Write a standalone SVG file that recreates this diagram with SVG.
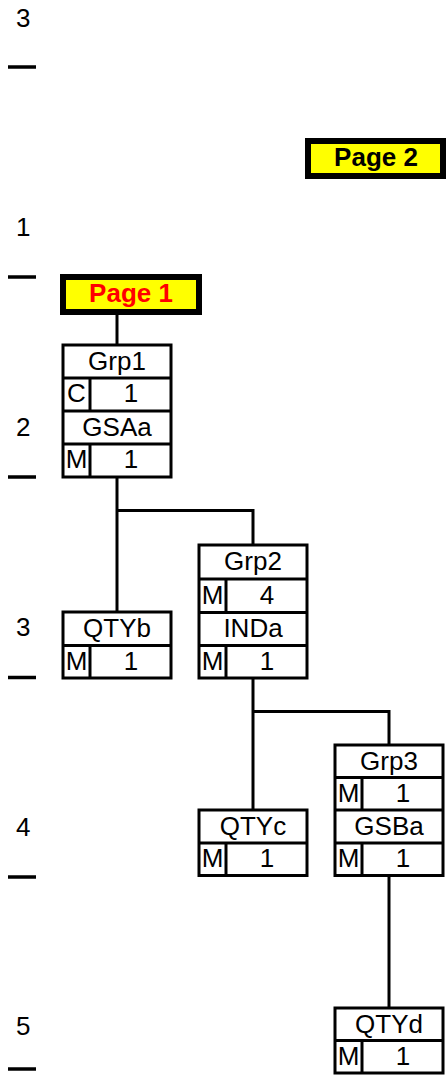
<svg xmlns="http://www.w3.org/2000/svg" width="446" height="1075" viewBox="0 0 446 1075">
<style>
text{font-family:"Liberation Sans",Arial,sans-serif;font-size:26px;fill:#000}
.c{text-anchor:middle}
.pg{font-weight:bold;text-anchor:middle}
.red{fill:#ff0000}
.box{fill:#fff;stroke:#000;stroke-width:3}
.ln{stroke:#000;stroke-width:3;fill:none}
.pbox{fill:#ffff00;stroke:#000;stroke-width:6}
.dash{stroke:#000;stroke-width:3.5}
</style>
<rect width="446" height="1075" fill="#fff"/>
<g id="levels">
<text x="16" y="27">3</text>
<line class="dash" x1="8" y1="67" x2="36" y2="67"/>
<text x="16" y="236">1</text>
<line class="dash" x1="8" y1="277" x2="36" y2="277"/>
<text x="16" y="436">2</text>
<line class="dash" x1="8" y1="477" x2="36" y2="477"/>
<text x="16" y="636">3</text>
<line class="dash" x1="8" y1="677.5" x2="36" y2="677.5"/>
<text x="16" y="836">4</text>
<line class="dash" x1="8" y1="877" x2="36" y2="877"/>
<text x="16" y="1035">5</text>
<line class="dash" x1="8" y1="1069" x2="36" y2="1069"/>
</g>
<g id="connectors">
<line class="ln" x1="117" y1="315" x2="117" y2="345"/>
<polyline class="ln" points="117,477 117,612"/>
<polyline class="ln" points="117,510.5 253,510.5 253,545"/>
<polyline class="ln" points="253,678 253,810"/>
<polyline class="ln" points="253,711.5 389,711.5 389,745"/>
<polyline class="ln" points="389,875.5 389,1008"/>
</g>
<g id="page2">
<rect class="pbox" x="308" y="141" width="135" height="35"/>
<text class="pg" x="376" y="166">Page 2</text>
</g>
<g id="page1">
<rect class="pbox" x="63" y="277" width="136" height="35"/>
<text class="pg red" x="131" y="302">Page 1</text>
</g>
<g id="grp1">
<rect class="box" x="63" y="345" width="108" height="132"/>
<line class="ln" x1="63" y1="378" x2="171" y2="378"/>
<line class="ln" x1="63" y1="411" x2="171" y2="411"/>
<line class="ln" x1="63" y1="444" x2="171" y2="444"/>
<line class="ln" x1="90" y1="378" x2="90" y2="411"/>
<line class="ln" x1="90" y1="444" x2="90" y2="477"/>
<text class="c" x="117" y="370">Grp1</text>
<text class="c" x="76.5" y="402">C</text>
<text class="c" x="131" y="402">1</text>
<text class="c" x="117" y="435.5">GSAa</text>
<text class="c" x="76.5" y="468">M</text>
<text class="c" x="131" y="468">1</text>
</g>
<g id="qtyb">
<rect class="box" x="63" y="612" width="108" height="66"/>
<line class="ln" x1="63" y1="645.5" x2="171" y2="645.5"/>
<line class="ln" x1="90" y1="645.5" x2="90" y2="678"/>
<text class="c" x="117" y="637">QTYb</text>
<text class="c" x="76.5" y="669.5">M</text>
<text class="c" x="131" y="669.5">1</text>
</g>
<g id="grp2">
<rect class="box" x="199" y="545" width="108" height="133"/>
<line class="ln" x1="199" y1="579" x2="307" y2="579"/>
<line class="ln" x1="199" y1="612.5" x2="307" y2="612.5"/>
<line class="ln" x1="199" y1="645.5" x2="307" y2="645.5"/>
<line class="ln" x1="226" y1="579" x2="226" y2="612.5"/>
<line class="ln" x1="226" y1="645.5" x2="226" y2="678"/>
<text class="c" x="253" y="570">Grp2</text>
<text class="c" x="212.5" y="603.5">M</text>
<text class="c" x="267" y="603.5">4</text>
<text class="c" x="253" y="637">INDa</text>
<text class="c" x="212.5" y="669.5">M</text>
<text class="c" x="267" y="669.5">1</text>
</g>
<g id="qtyc">
<rect class="box" x="199" y="810" width="108" height="65.5"/>
<line class="ln" x1="199" y1="843" x2="307" y2="843"/>
<line class="ln" x1="226" y1="843" x2="226" y2="875.5"/>
<text class="c" x="253" y="834.5">QTYc</text>
<text class="c" x="212.5" y="867">M</text>
<text class="c" x="267" y="867">1</text>
</g>
<g id="grp3">
<rect class="box" x="335" y="745" width="108" height="130.5"/>
<line class="ln" x1="335" y1="777.5" x2="443" y2="777.5"/>
<line class="ln" x1="335" y1="810" x2="443" y2="810"/>
<line class="ln" x1="335" y1="843" x2="443" y2="843"/>
<line class="ln" x1="362" y1="777.5" x2="362" y2="810"/>
<line class="ln" x1="362" y1="843" x2="362" y2="875.5"/>
<text class="c" x="389" y="769.5">Grp3</text>
<text class="c" x="348.5" y="802">M</text>
<text class="c" x="403" y="802">1</text>
<text class="c" x="389" y="834.5">GSBa</text>
<text class="c" x="348.5" y="867">M</text>
<text class="c" x="403" y="867">1</text>
</g>
<g id="qtyd">
<rect class="box" x="335" y="1008" width="108" height="65"/>
<line class="ln" x1="335" y1="1040.5" x2="443" y2="1040.5"/>
<line class="ln" x1="362" y1="1040.5" x2="362" y2="1073"/>
<text class="c" x="389" y="1032.5">QTYd</text>
<text class="c" x="348.5" y="1065">M</text>
<text class="c" x="403" y="1065">1</text>
</g>
</svg>
